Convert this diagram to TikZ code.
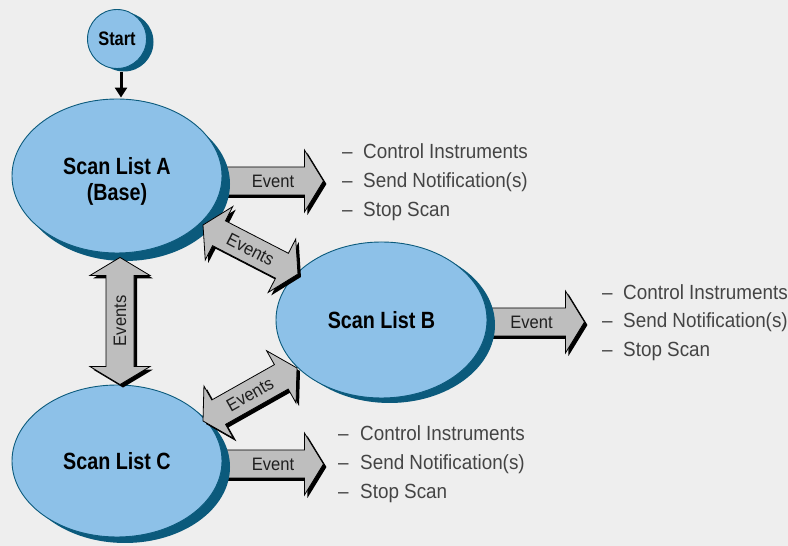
\documentclass[tikz,border=0pt]{standalone}
\usepackage{fontspec}
\setmainfont{Liberation Sans}
\newfontfamily\lblfont{Liberation Sans}[FakeStretch=0.84]
\newfontfamily\txtfont{Liberation Sans}[FakeStretch=0.92]
\usetikzlibrary{shapes.geometric,shadows,calc,arrows.meta}
\definecolor{bgc}{HTML}{EEEEEE}
\definecolor{lblue}{HTML}{8DC1E8}
\definecolor{dteal}{HTML}{0B5A7C}
\definecolor{agray}{HTML}{BEBEBE}
\definecolor{lgray}{HTML}{444444}
\pgfdeclarelayer{back}
\pgfdeclarelayer{arrlayer}
\pgfsetlayers{back,arrlayer,main}
\tikzset{
  state/.style={ellipse, fill=lblue, draw=dteal, line width=0.9pt, inner sep=0pt, align=center,
    font=\lblfont\bfseries\fontsize{23.5}{26}\selectfont,
    drop shadow={shadow xshift=8pt, shadow yshift=#1, fill=dteal, opacity=1}},
  state/.default=-6pt,
  arrbody/.style={fill=agray, draw=black, line width=0.8pt, line join=miter},
  arrshade/.style={fill=black},
  arrlabel/.style={font=\txtfont\fontsize{18}{20}\selectfont, text=black!88, inner sep=0pt},
  listtxt/.style={font=\txtfont\fontsize{20.5}{24}\selectfont, text=lgray, inner sep=0pt, anchor=base west},
}
% single block arrow outline in local coordinates (length \arrlen)
\newcommand\sarrpoly[1]{\path[#1] (0,14) -- ({\arrlen-19},14) -- ({\arrlen-19},31) -- (\arrlen,0)
  -- ({\arrlen-19},-31) -- ({\arrlen-19},-14) -- (0,-14) -- cycle;}
% double block arrow outline
\newcommand\darrpoly[1]{\path[#1] (0,0) -- (18,30) -- (18,14) -- ({\arrlen-18},14) -- ({\arrlen-18},30)
  -- (\arrlen,0) -- ({\arrlen-18},-30) -- ({\arrlen-18},-14) -- (18,-14) -- (18,-30) -- cycle;}
\newcommand\blockarrow[4]{%
  \path let \p1=($(#3)-(#2)$) in \pgfextra{%
    \pgfmathsetmacro\arrang{atan2(\y1,\x1)}\pgfmathsetmacro\arrlen{veclen(\x1,\y1)}%
    \global\let\arrang\arrang\global\let\arrlen\arrlen};
  \begin{scope}[shift={($(#2)+(3,-3)$)}, rotate=\arrang] #1{arrshade} \end{scope}
  \begin{scope}[shift={(#2)}, rotate=\arrang] #1{arrbody}
    \path ({\arrlen/2},0) node[arrlabel, rotate=\arrang] {#4};
  \end{scope}}
\begin{document}
\begin{tikzpicture}[x=1pt,y=1pt]
\useasboundingbox (0,0) rectangle (788,546);
\begin{pgfonlayer}{back}\fill[bgc] (0,0) rectangle (788,546);\end{pgfonlayer}

% states
\node[circle, fill=lblue, draw=dteal, line width=0.9pt, minimum size=59pt, inner sep=0pt,
  font=\lblfont\bfseries\fontsize{19.5}{22}\selectfont,
  drop shadow={shadow xshift=7pt, shadow yshift=-3pt, fill=dteal, opacity=1}] (start) at (117,507) {Start};
\node[state=-8pt, minimum width=210pt, minimum height=154pt,
  label={[name=Atext, yshift=-5pt, align=center, font=\lblfont\bfseries\fontsize{23.5}{26}\selectfont]center:Scan List A\\(Base)}] (A) at (117,370) {};
\node[state=-5pt, minimum width=211pt, minimum height=156pt] (B) at (381.5,226) {Scan List B};
\node[state=-6pt, minimum width=210pt, minimum height=152pt] (C) at (117,85) {Scan List C};

% start arrow
\coordinate (s1) at ([xshift=4pt, yshift=-3pt]start.south);
\coordinate (s2) at ([xshift=4pt, yshift=1pt]A.north);
\draw[line width=3pt, -{Triangle[width=12pt,length=10pt]}] (s1) -- (s2);

% arrow end points
\coordinate (aev1) at ([yshift=-5pt]A.east);
\coordinate (aev2) at ([xshift=101pt, yshift=-5pt]A.east);
\coordinate (bev1) at ([xshift=-9pt, yshift=-2pt]B.east);
\coordinate (bev2) at ([xshift=97pt, yshift=-2pt]B.east);
\coordinate (cev1) at ([yshift=-3pt]C.east);
\coordinate (cev2) at ([xshift=101pt, yshift=-3pt]C.east);
\coordinate (acv1) at ([xshift=3pt]C.north);
\coordinate (acv2) at ([xshift=3pt, yshift=-4pt]A.south);
\coordinate (ab1) at (203,321);
\coordinate (ab2) at (298,272);
\coordinate (cb1) at (203,125);
\coordinate (cb2) at (297,178);

% event arrows (behind the states)
\begin{pgfonlayer}{arrlayer}
\blockarrow{\sarrpoly}{aev1}{aev2}{Event}
\blockarrow{\sarrpoly}{bev1}{bev2}{Event}
\blockarrow{\sarrpoly}{cev1}{cev2}{Event}
\end{pgfonlayer}

% events between states
\blockarrow{\darrpoly}{acv1}{acv2}{Events}
\blockarrow{\darrpoly}{ab1}{ab2}{Events}
\blockarrow{\darrpoly}{cb1}{cb2}{Events}

% action lists
\node[listtxt] (ad1) at (342,387) {–};
\node[listtxt] (ad2) at (342,358) {–};
\node[listtxt] (ad3) at (342,329) {–};
\node[listtxt] (at1) at (363,387) {Control Instruments};
\node[listtxt] (at2) at (363,358) {Send Notification(s)};
\node[listtxt] (at3) at (363,329) {Stop Scan};

\node[listtxt] (bd1) at (602,246) {–};
\node[listtxt] (bd2) at (602,218) {–};
\node[listtxt] (bd3) at (602,189) {–};
\node[listtxt] (bt1) at (623,246) {Control Instruments};
\node[listtxt] (bt2) at (623,218) {Send Notification(s)};
\node[listtxt] (bt3) at (623,189) {Stop Scan};

\node[listtxt] (cd1) at (338,105) {–};
\node[listtxt] (cd2) at (338,76) {–};
\node[listtxt] (cd3) at (338,47) {–};
\node[listtxt] (ct1) at (360,105) {Control Instruments};
\node[listtxt] (ct2) at (360,76) {Send Notification(s)};
\node[listtxt] (ct3) at (360,47) {Stop Scan};
\end{tikzpicture}
\end{document}
